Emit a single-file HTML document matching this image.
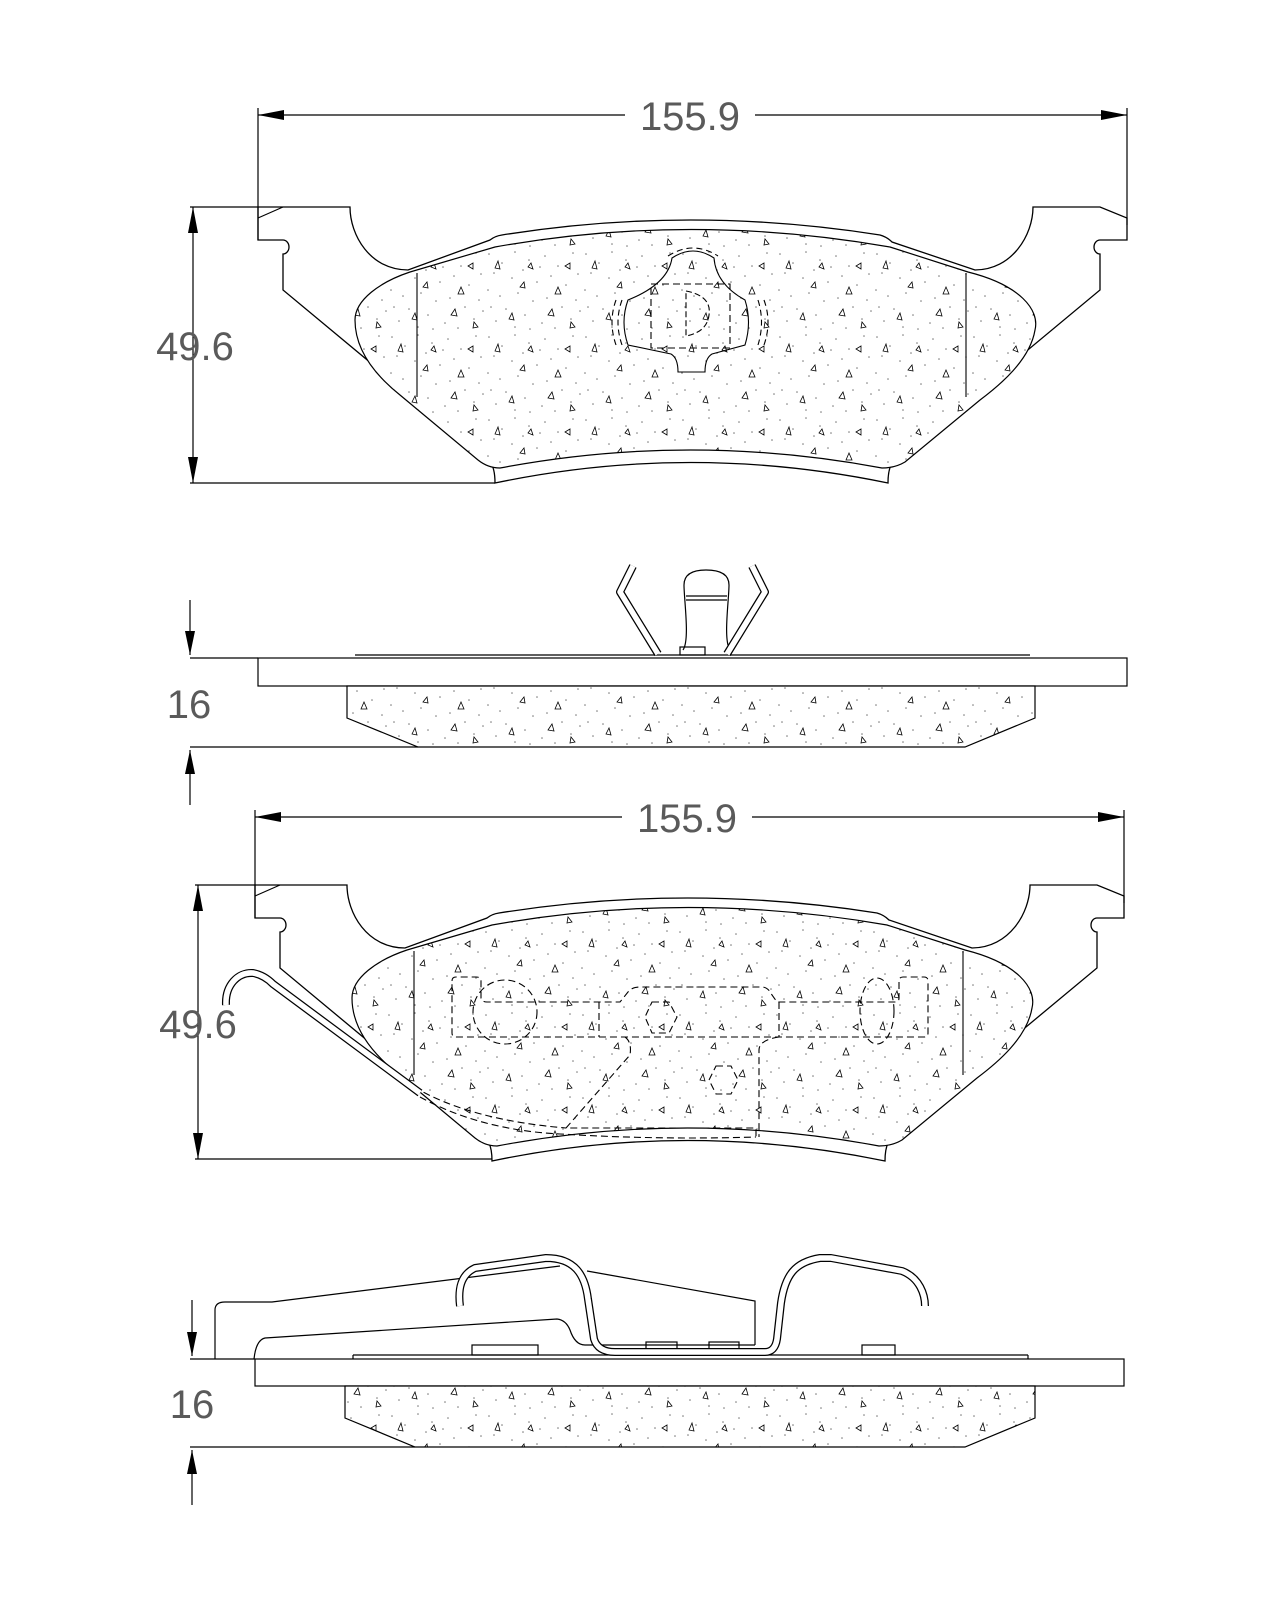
<!DOCTYPE html>
<html><head><meta charset="utf-8"><style>
html,body{margin:0;padding:0;background:#fff}
svg{display:block}
text{font-family:"Liberation Sans",sans-serif;fill:#5a5a5a}
</style></head><body>
<svg width="1280" height="1600" viewBox="0 0 1280 1600" xmlns="http://www.w3.org/2000/svg">
<defs>
<pattern id="sp" width="97" height="83" patternUnits="userSpaceOnUse">
<rect width="97" height="83" fill="#fff"/>
<g fill="#777">
<circle cx="4" cy="5" r="0.8"/><circle cx="17" cy="14" r="0.8"/><circle cx="30" cy="3" r="0.8"/><circle cx="44" cy="11" r="0.8"/>
<circle cx="9" cy="24" r="0.8"/><circle cx="27" cy="29" r="0.8"/><circle cx="38" cy="21" r="0.8"/><circle cx="52" cy="33" r="0.8"/>
<circle cx="3" cy="41" r="0.8"/><circle cx="15" cy="47" r="0.8"/><circle cx="33" cy="44" r="0.8"/><circle cx="48" cy="52" r="0.8"/>
<circle cx="21" cy="60" r="0.8"/><circle cx="40" cy="66" r="0.8"/><circle cx="11" cy="72" r="0.8"/><circle cx="60" cy="7" r="0.8"/>
<circle cx="73" cy="17" r="0.8"/><circle cx="88" cy="4" r="0.8"/><circle cx="66" cy="27" r="0.8"/><circle cx="81" cy="36" r="0.8"/>
<circle cx="93" cy="25" r="0.8"/><circle cx="62" cy="49" r="0.8"/><circle cx="77" cy="58" r="0.8"/><circle cx="91" cy="51" r="0.8"/>
<circle cx="57" cy="74" r="0.8"/><circle cx="70" cy="79" r="0.8"/><circle cx="86" cy="70" r="0.8"/><circle cx="30" cy="78" r="0.8"/>
<circle cx="6" cy="58" r="0.8"/><circle cx="45" cy="80" r="0.8"/><circle cx="95" cy="62" r="0.8"/><circle cx="55" cy="18" r="0.8"/>
</g>
<g fill="none" stroke="#000" stroke-width="0.8">
<path d="M10,19 l3,-7 l2,8 z"/><path d="M35,38 l4,-5 l1,6 z"/><path d="M48,20 l-5,-2 l3,-4 z"/>
<path d="M70,45 l3,-7 l3,7 z"/><path d="M85,14 l-5,3 l5,3 z"/><path d="M24,70 l3,-6 l2,7 z"/>
<path d="M63,66 l4,-6 l2,7 z"/><path d="M90,78 l-4,-5 l-1,6 z"/>
</g>
</pattern>
</defs>

<g fill="none" stroke="#000" stroke-width="1.2">
<line x1="258" y1="108" x2="258" y2="240"/>
<line x1="1127" y1="108" x2="1127" y2="225"/>
<line x1="258" y1="115" x2="625" y2="115"/>
<line x1="755" y1="115" x2="1127" y2="115"/>
<line x1="190" y1="207" x2="258" y2="207"/>
<line x1="190" y1="483" x2="495" y2="483"/>
<line x1="193" y1="207" x2="193" y2="483"/>
</g>
<g fill="#000">
<path d="M258,115 l26,-5 v10 z"/><path d="M1127,115 l-26,-5 v10 z"/>
<path d="M193,207 l-5,26 h10 z"/><path d="M193,483 l-5,-26 h10 z"/>
</g>
<text x="690" y="130" font-size="40" text-anchor="middle">155.9</text>
<text x="195" y="360" font-size="40" text-anchor="middle">49.6</text>

<g id="pad">
<path fill="none" stroke="#000" stroke-width="1.3" d="M258,207 H350 C350,235 370,270 408,270 L490,240 Q495,236 502,235 Q690,205 880,235 Q887,237 892,242 L975,270 C1012,270 1033,235 1033,207 H1100 L1127,218 V240 H1100 a6,7 0 0 0 0,14 V290 L893,462 Q888,468 888,483 Q690,442 495,483 Q495,468 490,462 L283,290 V254 a6,7 0 0 0 0,-14 H258 Z"/>
<path fill="none" stroke="#000" stroke-width="1.1" d="M258,218 L283,207"/>
<path fill="url(#sp)" stroke="#000" stroke-width="1.2" d="M410,272 L495,247 Q690,212 890,247 L968,272 C1020,285 1040,310 1035,330 C1030,360 1000,385 980,400 L905,462 Q895,468 882,468 Q690,432 500,468 Q488,468 478,460 L400,395 C375,375 355,350 355,320 C355,300 380,282 410,272 Z"/>
<line x1="417" y1="273" x2="417" y2="397" stroke="#000" stroke-width="1.1"/>
<line x1="966" y1="273" x2="966" y2="397" stroke="#000" stroke-width="1.1"/>
</g>

<g fill="none" stroke="#000" stroke-width="1.1">
<path d="M672,258 Q693,244 714,258 Q716,284 745,300 Q752,322 745,345 L712,354 Q705,358 705,372 H678 Q678,358 671,354 L628,345 Q620,322 628,300 Q668,284 672,258 Z"/>
<path stroke-dasharray="6,4" d="M668,256 Q693,240 718,256 M622,300 Q614,322 622,345 M764,300 Q772,322 764,345 M758,300 Q765,322 758,345 M616,300 Q608,322 616,345"/>
<rect x="651" y="284" width="79" height="64" stroke-dasharray="7,4"/>
<path stroke-dasharray="6,3" d="M686,291 Q712,296 709,315 Q707,332 686,336 Z"/>
</g>

<g fill="none" stroke="#000" stroke-width="1.2">
<rect x="258" y="658" width="869" height="28"/>
<line x1="355" y1="655" x2="1030" y2="655"/>
<path fill="url(#sp)" d="M347,686 H1035 V718 L965,747 H418 L347,718 Z"/>
<line x1="190" y1="658" x2="258" y2="658"/>
<line x1="190" y1="747" x2="418" y2="747"/>
<line x1="190" y1="600" x2="190" y2="655"/>
<line x1="190" y1="750" x2="190" y2="805"/>
<path d="M683,650 C690,640 684,600 684,585 Q684,570 706,570 Q729,570 729,585 C729,600 723,640 730,650"/>
<line x1="686" y1="596" x2="727" y2="596"/><line x1="686" y1="600" x2="727" y2="600"/>
<rect x="680" y="647" width="25" height="8"/>
</g>
<g fill="none" stroke-linejoin="round">
<path stroke="#000" stroke-width="8" d="M633,566 L620,592 L658,654 M752,566 L765,592 L727,654"/>
<path stroke="#fff" stroke-width="5.5" d="M633,566 L620,592 L658,654 M752,566 L765,592 L727,654"/>
</g>
<g fill="#000"><path d="M190,655 l-5,-24 h10 z"/><path d="M190,750 l-5,24 h10 z"/></g>
<text x="189" y="718" font-size="40" text-anchor="middle">16</text>

<g fill="none" stroke="#000" stroke-width="1.2">
<line x1="255" y1="810" x2="255" y2="918"/>
<line x1="1124" y1="810" x2="1124" y2="903"/>
<line x1="255" y1="817" x2="622" y2="817"/>
<line x1="752" y1="817" x2="1124" y2="817"/>
<line x1="195" y1="885" x2="255" y2="885"/>
<line x1="195" y1="1159" x2="492" y2="1159"/>
<line x1="198" y1="885" x2="198" y2="1159"/>
</g>
<g fill="#000">
<path d="M255,817 l26,-5 v10 z"/><path d="M1124,817 l-26,-5 v10 z"/>
<path d="M198,885 l-5,26 h10 z"/><path d="M198,1159 l-5,-26 h10 z"/>
</g>
<text x="687" y="832" font-size="40" text-anchor="middle">155.9</text>
<text x="198" y="1038" font-size="40" text-anchor="middle">49.6</text>
<use href="#pad" transform="translate(-3,678)"/>

<g fill="none" stroke="#000" stroke-width="1.1" stroke-dasharray="7,4">
<path d="M452,981 Q452,977 456,977 H476 Q481,977 481,981 V998 Q482,1002 487,1002 H620 L628,992 Q632,987 640,987 H762 Q768,987 772,995 L777,1002 H895 Q899,1002 899,998 V981 Q899,977 903,977 H924 Q928,977 928,981 V1033 Q928,1037 924,1037 H456 Q452,1037 452,1033 Z"/>
<circle cx="505" cy="1012" r="32"/>
<ellipse cx="877" cy="1011" rx="17" ry="33"/>
<line x1="599" y1="1002" x2="599" y2="1037"/>
<line x1="779" y1="1002" x2="779" y2="1037"/>
<path d="M625,1037 Q632,1042 630,1055 L566,1128 H756 V1137"/>
<path d="M779,1037 Q759,1040 759,1050 V1137"/>
<path d="M414,1087 Q470,1120 566,1128"/>
<path d="M420,1097 Q480,1130 560,1134 Q660,1140 756,1137"/>
<path d="M652,1002 L669,1002 L677,1017 L669,1033 L652,1033 L645,1017 Z"/>
<path d="M716,1066 L731,1066 L738,1080 L731,1094 L716,1094 L709,1080 Z"/>
</g>
<g fill="none" stroke-linejoin="round">
<path stroke="#000" stroke-width="8" d="M226,1005 C225,985 238,972 253,973 Q264,975 273,984 L420,1093"/>
<path stroke="#fff" stroke-width="5.5" d="M226,1005 C225,985 238,972 253,973 Q264,975 273,984 L420,1093"/>
</g>

<g fill="none" stroke="#000" stroke-width="1.2">
<path d="M215,1359 V1310 Q215,1302 225,1302 L272,1302 L560,1266 M587,1271 L755,1301 V1345"/>
<path d="M254,1359 Q256,1340 265,1338 L557,1319 Q566,1320 570,1330 Q575,1345 585,1345 H755"/>
<rect x="255" y="1359" width="869" height="27"/>
<line x1="353" y1="1355" x2="1028" y2="1355"/>
<line x1="353" y1="1355" x2="353" y2="1359"/><line x1="1028" y1="1355" x2="1028" y2="1359"/>
<rect x="472" y="1345" width="66" height="10"/>
<rect x="646" y="1342" width="31" height="13"/>
<rect x="709" y="1342" width="30" height="13"/>
<rect x="862" y="1345" width="33" height="10"/>
<path fill="url(#sp)" d="M345,1386 H1035 V1418 L965,1447 H415 L345,1418 Z"/>
<line x1="190" y1="1359" x2="255" y2="1359"/>
<line x1="190" y1="1447" x2="415" y2="1447"/>
<line x1="192" y1="1300" x2="192" y2="1356"/>
<line x1="192" y1="1450" x2="192" y2="1505"/>
</g>
<g fill="none" stroke-linejoin="round">
<path stroke="#000" stroke-width="8" d="M460,1306 C458,1290 460,1275 475,1268 L546,1258 C575,1258 585,1275 588,1299 L594,1339 Q598,1352 615,1352 H765 Q775,1352 777,1339 L781,1303 C785,1275 795,1262 820,1258 L831,1258 L902,1271 C920,1278 925,1295 925,1306"/>
<path stroke="#fff" stroke-width="5.5" d="M460,1306 C458,1290 460,1275 475,1268 L546,1258 C575,1258 585,1275 588,1299 L594,1339 Q598,1352 615,1352 H765 Q775,1352 777,1339 L781,1303 C785,1275 795,1262 820,1258 L831,1258 L902,1271 C920,1278 925,1295 925,1306"/>
</g>
<g fill="#000"><path d="M192,1356 l-5,-24 h10 z"/><path d="M192,1450 l-5,24 h10 z"/></g>
<text x="192" y="1418" font-size="40" text-anchor="middle">16</text>
</svg>
</body></html>
